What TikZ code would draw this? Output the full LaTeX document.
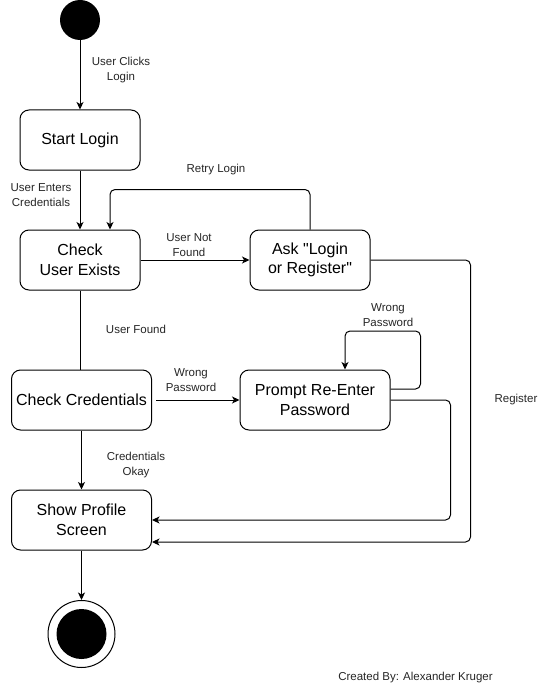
\documentclass[tikz,border=0pt]{standalone}
\usepackage{fontspec}
\setmainfont{Liberation Sans}
\newfontfamily\rawsans{Liberation Sans}
\usetikzlibrary{positioning,calc,arrows.meta}

\tikzset{
	state/.style={draw, line width=1pt, rounded corners=9pt, align=center, minimum height=60pt, font=\rawsans\fontsize{16}{19.5}\selectfont},
	lbl/.style={align=center, inner sep=0pt, text=black!85, font=\rawsans\fontsize{11.5}{14.5}\selectfont},
	flow/.style={line width=1pt, -{Stealth[length=7.5pt,width=7pt,inset=2pt]}},
}

\begin{document}
\begin{tikzpicture}[x=1pt,y=-1pt]
		\useasboundingbox (0,0) rectangle (546,690);
		
		\node[circle, fill=black, minimum size=40pt, inner sep=0pt] (start) at (80,20) {};
		
		\node[state, minimum width=120pt] (login) at (80,140) {Start Login};
		\node[state, minimum width=120pt] (exists) at (80,260) {Check\\User Exists};
		\node[state, minimum width=120pt] (ask) at (310,260) {Ask "Login\\or Register"};
		\node[state, minimum width=140pt] (creds) at (81.5,400) {Check Credentials};
		\node[state, minimum width=150pt] (prompt) at (315,400) {Prompt Re-Enter\\Password};
		\node[state, minimum width=140pt] (profile) at (81.5,520) {Show Profile\\Screen};
		
		\node[circle, draw, line width=1pt, minimum size=67pt, inner sep=0pt] (end) at (81.5,634) {};
		\node[circle, fill=black, minimum size=50pt, inner sep=0pt] (endcore) at (end) {};
		
		%labels
		\node[lbl] (clicks) at (121,70) {User Clicks\\Login};
		\node[lbl] (enters) at (41,195) {User Enters\\Credentials};
		\node[lbl] (retry) at (216,170) {Retry Login};
		\node[lbl] (notfound) at (189,245) {User Not\\Found};
		\node[lbl] (found) at (136,329) {User Found};
		\node[lbl] (wrong) at (191,380) {Wrong\\Password};
		\node[lbl] (wrongloop) at (388,315) {Wrong\\Password};
		\node[lbl] (okay) at (136,465) {Credentials\\Okay};
		\node[lbl] (register) at (516,400) {Register};
		
		\draw[flow] (start) -- (login);
		\draw[flow] (login) -- (exists);
		\draw[flow] (exists) -- (ask);
		\draw[flow, rounded corners=5pt] (ask.north) -- ++(0,-40) -| ($(exists.north)+(30,0)$);
		\draw[line width=1pt] (exists.south) -- (exists.south |- creds.north);
		\draw[flow, shorten <=4pt] (creds) -- (prompt);
		\draw[flow, rounded corners=5pt] ($(prompt.east)+(0,-11)$) -- ++(30,0) -- ++(0,-58) -| ($(prompt.north)+(30,0)$);
		\draw[flow, rounded corners=5pt] (prompt.east) -- ++(60,0) |- (profile.east);
		\draw[flow, rounded corners=5pt] (ask.east) -- ++(100,0) |- ($(profile.east)+(0,22)$);
		\draw[flow] (creds) -- (profile);
		\draw[flow] (profile) -- (end);
		
		\node[lbl] (credit) at (415.5,678) {Created By: Alexander Kruger};
		
\end{tikzpicture}
\end{document}
